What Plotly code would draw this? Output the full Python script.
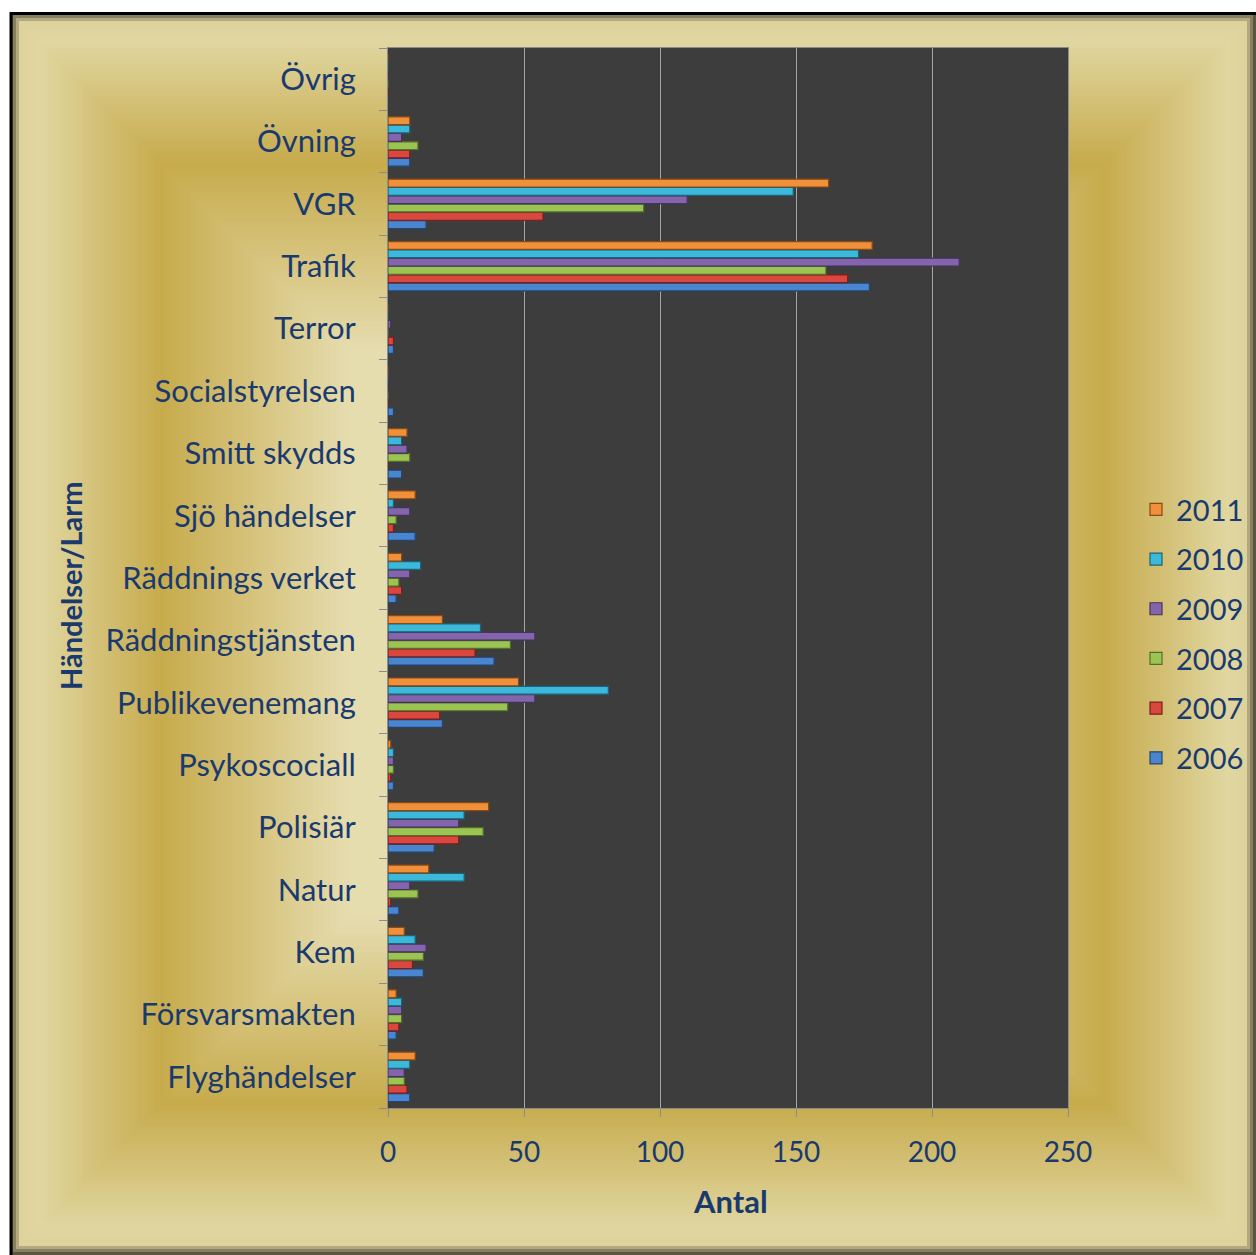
import plotly.graph_objects as go

# Categories listed bottom to top
categories = [
    "Flyghändelser", "Försvarsmakten", "Kem", "Natur", "Polisiär",
    "Psykoscociall", "Publikevenemang", "Räddningstjänsten", "Räddnings verket",
    "Sjö händelser", "Smitt skydds", "Socialstyrelsen", "Terror", "Trafik",
    "VGR", "Övning", "Övrig",
]

years = ["2006", "2007", "2008", "2009", "2010", "2011"]

v2006 = [8, 3, 13, 4, 17, 2, 20, 39, 3, 10, 5, 2, 2, 177, 14, 8, 0]
v2007 = [7, 4, 9, 1, 26, 1, 19, 32, 5, 2, 0, 0, 2, 169, 57, 8, 0]
v2008 = [6, 5, 13, 11, 35, 2, 44, 45, 4, 3, 8, 0, 0, 161, 94, 11, 0]
v2009 = [6, 5, 14, 8, 26, 2, 54, 54, 8, 8, 7, 0, 1, 210, 110, 5, 0]
v2010 = [8, 5, 10, 28, 28, 2, 81, 34, 12, 2, 5, 0, 0, 173, 149, 8, 0]
v2011 = [10, 3, 6, 15, 37, 1, 48, 20, 5, 10, 7, 0, 0, 178, 162, 8, 0]

series = [v2006, v2007, v2008, v2009, v2010, v2011]

fill_colors = ["#4a86cf", "#d9473f", "#9cc452", "#8465ab", "#3cb8da", "#f0903a"]
edge_colors = ["#23456e", "#7a1f1c", "#52702a", "#46325e", "#1d6378", "#8a4a14"]

x_ticks = [0, 50, 100, 150, 200, 250]

# Figure geometry (pixels)
W, H = 1256, 1255
ML, MR, MT, MB = 388, 188, 48, 147
PW, PH = W - ML - MR, H - MT - MB


def px_x(px):
    return (px - ML) / PW


def px_y(py):
    return (H - MB - py) / PH


navy = "#1a3a6e"
font_family = "Lato, 'Open Sans', sans-serif"

fig = go.Figure()
for i, (yr, vals, fc, ec) in enumerate(zip(years, series, fill_colors, edge_colors)):
    fig.add_trace(go.Bar(
        y=categories, x=vals, name=yr, orientation="h",
        legendgroup=yr, legendrank=len(years) - i,
        marker=dict(color=fc, line=dict(color=ec, width=1.2)),
    ))

# Bevelled gold frame: nested rectangles shaded from the edge inwards
stops = [
    (0, (90, 86, 66)),
    (9, (222, 211, 156)),
    (28, (224, 214, 160)),
    (150, (199, 171, 76)),
    (340, (230, 221, 176)),
]


def shade(d):
    for (d0, c0), (d1, c1) in zip(stops, stops[1:]):
        if d0 <= d <= d1:
            t = (d - d0) / (d1 - d0)
            return "rgb(%d,%d,%d)" % tuple(round(a + (b - a) * t) for a, b in zip(c0, c1))
    return "rgb(%d,%d,%d)" % stops[-1][1]


fx0, fy0, fx1, fy1 = 10, 12, 1256, 1255
shapes = []
step = 3
d = 0
while d <= 340:
    shapes.append(dict(
        type="rect", xref="paper", yref="paper", layer="below",
        x0=px_x(fx0 + d), x1=px_x(fx1 - d),
        y0=px_y(fy1 - d), y1=px_y(fy0 + d),
        fillcolor=shade(d), line=dict(width=0),
    ))
    d += step

# Dark plotting area on top of the frame
shapes.append(dict(
    type="rect", xref="paper", yref="paper", layer="below",
    x0=0, x1=1, y0=0, y1=1, fillcolor="#3d3d3d", line=dict(width=0),
))
# Black outline of the chart
shapes.append(dict(
    type="rect", xref="paper", yref="paper", layer="above",
    x0=px_x(11), x1=px_x(1262), y0=px_y(1262), y1=px_y(13.5),
    fillcolor="rgba(0,0,0,0)", line=dict(color="black", width=3),
))

annotations = [
    dict(text="<b>Händelser/Larm</b>", xref="paper", yref="paper",
         x=px_x(70), y=px_y(586), textangle=-90, showarrow=False,
         font=dict(family=font_family, size=29, color=navy),
         xanchor="center", yanchor="middle"),
    dict(text="<b>Antal</b>", xref="paper", yref="paper",
         x=px_x(730), y=px_y(1201), showarrow=False,
         font=dict(family=font_family, size=31, color=navy),
         xanchor="center", yanchor="middle"),
]

fig.update_layout(
    width=W, height=H,
    margin=dict(l=ML, r=MR, t=MT, b=MB, autoexpand=False),
    paper_bgcolor="white",
    plot_bgcolor="rgba(0,0,0,0)",
    barmode="group",
    bargap=0.2,
    bargroupgap=0.06,
    shapes=shapes,
    annotations=annotations,
    font=dict(family=font_family, color=navy),
    legend=dict(
        x=px_x(1136), y=px_y(484), xanchor="left", yanchor="top",
        traceorder="grouped", tracegroupgap=9,
        font=dict(family=font_family, size=29, color=navy),
        bgcolor="rgba(0,0,0,0)",
    ),
    xaxis=dict(
        range=[0, 250], tickvals=x_ticks, ticktext=[str(t) for t in x_ticks],
        showgrid=True, gridcolor="#a6a6a6", gridwidth=1,
        zeroline=False,
        showline=True, linecolor="#8c8c8c", linewidth=1, mirror=True,
        ticks="outside", ticklen=8, tickcolor="#8c8c8c",
        tickfont=dict(family=font_family, size=28, color=navy),
        ticklabelstandoff=11,
    ),
    yaxis=dict(
        type="category", categoryorder="array", categoryarray=categories,
        range=[-0.5, len(categories) - 0.5],
        showgrid=False, zeroline=False,
        showline=True, linecolor="#8c8c8c", linewidth=1, mirror=True,
        ticks="outside", ticklen=8, tickcolor="#8c8c8c", tickson="boundaries",
        tickfont=dict(family=font_family, size=31, color=navy),
        ticklabelstandoff=25,
    ),
)

fig.write_html("out.html")
